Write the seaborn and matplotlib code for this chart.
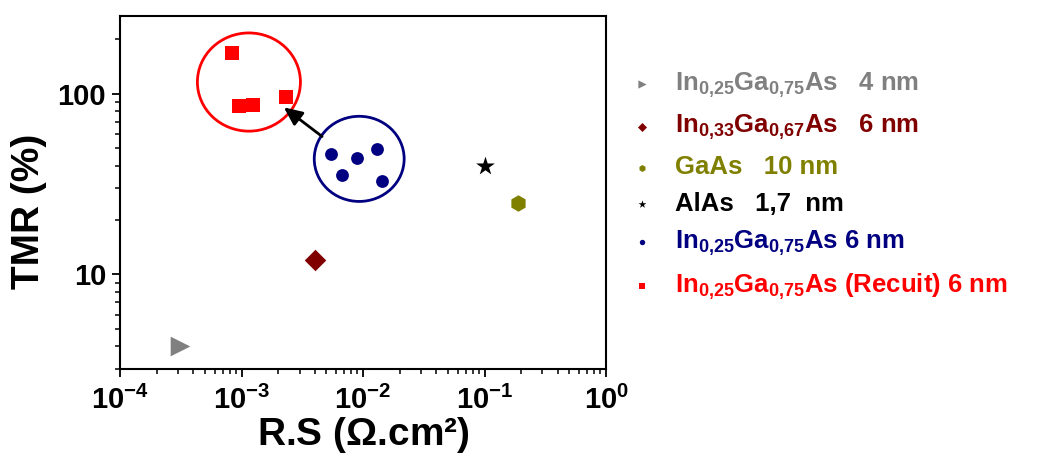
import numpy as np
import pandas as pd
import matplotlib
matplotlib.use("Agg")
import matplotlib.pyplot as plt
from matplotlib.patches import Ellipse
from matplotlib.ticker import LogLocator, FuncFormatter, NullFormatter
import seaborn as sns

# -----------------------------
# Data
# -----------------------------
rs_ingaas_4nm = [3.1e-4]
tmr_ingaas_4nm = [4.0]

rs_in33_6nm = [4.0e-3]
tmr_in33_6nm = [12.0]

rs_gaas_10nm = [0.19]
tmr_gaas_10nm = [25.0]

rs_alas_17nm = [0.10]
tmr_alas_17nm = [40.0]

rs_ingaas_6nm = [5.4e-3, 6.7e-3, 9.0e-3, 1.3e-2, 1.42e-2]
tmr_ingaas_6nm = [46.5, 35.6, 44.0, 49.7, 32.7]

rs_recuit_6nm = [8.4e-4, 9.5e-4, 1.24e-3, 2.32e-3]
tmr_recuit_6nm = [169.0, 85.0, 87.0, 96.0]

labels = [
    r"In$_{0{,}25}$Ga$_{0{,}75}$As   4 nm",
    r"In$_{0{,}33}$Ga$_{0{,}67}$As   6 nm",
    "GaAs   10 nm",
    "AlAs   1,7  nm",
    r"In$_{0{,}25}$Ga$_{0{,}75}$As 6 nm",
    r"In$_{0{,}25}$Ga$_{0{,}75}$As (Recuit) 6 nm",
]
colors = ["#808080", "#800000", "#808000", "#000000", "#000080", "#ff0000"]

# annotations: group circles and annealing arrow (data coordinates)
recuit_circle_centre = (1.15e-3, 116.0)
ingaas_circle_centre = (9.3e-3, 43.6)
arrow_from = (4.6e-3, 58.0)
arrow_to = (2.23e-3, 84.0)

# -----------------------------
# Style
# -----------------------------
sns.set_style("ticks")
plt.rcParams["font.family"] = ["Liberation Sans", "DejaVu Sans"]
plt.rcParams["font.weight"] = "bold"
plt.rcParams["text.color"] = "black"
plt.rcParams["axes.labelcolor"] = "black"
plt.rcParams["xtick.color"] = "black"
plt.rcParams["ytick.color"] = "black"
plt.rcParams["mathtext.fontset"] = "custom"
plt.rcParams["mathtext.rm"] = "Liberation Sans:bold"
plt.rcParams["mathtext.bf"] = "Liberation Sans:bold"
plt.rcParams["mathtext.it"] = "Liberation Sans:bold"
plt.rcParams["mathtext.sf"] = "Liberation Sans:bold"

fig = plt.figure(figsize=(10.42, 4.57), dpi=100)
ax = fig.add_axes([0.1152, 0.1926, 0.4664, 0.773])

series = [
    (rs_ingaas_4nm, tmr_ingaas_4nm, ">", 200),
    (rs_in33_6nm, tmr_in33_6nm, "D", 120),
    (rs_gaas_10nm, tmr_gaas_10nm, "h", 140),
    (rs_alas_17nm, tmr_alas_17nm, "*", 200),
    (rs_ingaas_6nm, tmr_ingaas_6nm, "o", 85),
    (rs_recuit_6nm, tmr_recuit_6nm, "s", 95),
]

for (xs, ys, mk, sz), lab, col in zip(series, labels, colors):
    df = pd.DataFrame({"RS": xs, "TMR": ys})
    sns.scatterplot(data=df, x="RS", y="TMR", marker=mk, s=sz, color=col,
                    linewidth=0, label=lab, ax=ax, legend=False)

ax.set_xscale("log")
ax.set_yscale("log")
ax.set_xlim(1e-4, 1)
ax.set_ylim(3, 270)

ax.xaxis.set_major_locator(LogLocator(base=10, numticks=10))
ax.xaxis.set_minor_locator(LogLocator(base=10, subs=np.arange(2, 10), numticks=20))
ax.xaxis.set_major_formatter(FuncFormatter(lambda v, p: r"$10^{%d}$" % round(np.log10(v))))
ax.xaxis.set_minor_formatter(NullFormatter())
ax.yaxis.set_major_locator(LogLocator(base=10, numticks=10))
ax.yaxis.set_minor_locator(LogLocator(base=10, subs=np.arange(2, 10), numticks=20))
ax.yaxis.set_major_formatter(FuncFormatter(lambda v, p: "%d" % round(v)))
ax.yaxis.set_minor_formatter(NullFormatter())

ax.tick_params(which="major", direction="out", length=6, width=1.3, labelsize=21, pad=4)
ax.tick_params(which="minor", direction="out", length=3.5, width=1.1)
ax.tick_params(axis="x", which="major", pad=6)
for s in ax.spines.values():
    s.set_visible(True)
    s.set_linewidth(1.5)
    s.set_color("black")

ax.set_xlabel(r"R.S ($\Omega$.cm²)", fontsize=28, fontweight="bold", labelpad=0)
ax.set_ylabel("TMR (%)", fontsize=28, fontweight="bold")
ax.yaxis.set_label_coords(-0.15, 0.445)

# group circles (sizes in axes fraction so they stay round on log axes)
to_axes = ax.transData + ax.transAxes.inverted()
for centre, col, w, h in [(recuit_circle_centre, "#ff0000", 0.212, 0.278),
                          (ingaas_circle_centre, "#000080", 0.185, 0.241)]:
    cx, cy = to_axes.transform(centre)
    ax.add_patch(Ellipse((cx, cy), w, h, transform=ax.transAxes,
                         fill=False, edgecolor=col, linewidth=2))

ax.annotate("", xy=arrow_to, xytext=arrow_from,
            arrowprops=dict(arrowstyle="-|>,head_length=1.1,head_width=0.5",
                            color="black", lw=2, shrinkA=0, shrinkB=0))

fig.legend(loc="upper left", bbox_to_anchor=(0.591, 0.845), frameon=False,
           fontsize=18.5, labelcolor=colors, markerscale=0.42,
           handletextpad=0.3, labelspacing=0.5, borderpad=0, borderaxespad=0)

plt.savefig("out.png", dpi=100)
plt.close()
